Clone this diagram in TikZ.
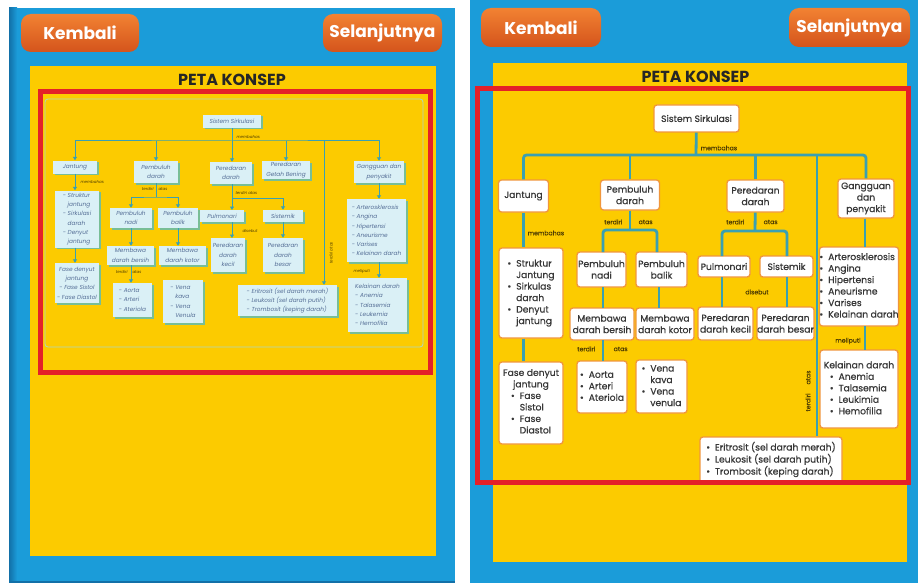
\documentclass[tikz,border=0pt]{standalone}
\usepackage{fontspec}
\setmainfont{Poppins}
\newfontfamily\sedang[FakeBold=0.6]{Poppins}
\usetikzlibrary{positioning,arrows.meta}
\definecolor{biru}{RGB}{27,156,217}
\definecolor{birutua}{RGB}{18,112,168}
\definecolor{kuning}{RGB}{252,203,0}
\definecolor{merah}{RGB}{228,32,40}
\definecolor{oranyeatas}{RGB}{242,130,50}
\definecolor{oranyebawah}{RGB}{212,84,28}
\definecolor{tepi}{RGB}{240,150,60}
\definecolor{toska}{RGB}{58,160,178}
\definecolor{teks}{RGB}{55,55,55}
\definecolor{coklat}{RGB}{80,62,0}
\definecolor{birumuda}{RGB}{218,240,246}
\definecolor{bayang}{RGB}{120,190,150}
\definecolor{tekskecil}{RGB}{85,110,150}
\newcommand{\butir}{\textbullet}
\newenvironment{daftar}{\begin{tabular}{@{}l@{\hspace{5pt}}l@{}}}{\end{tabular}}
\tikzset{
    >={Triangle[width=4pt,length=3.5pt]},
    tombol/.style = {rounded corners=10pt, top color=oranyeatas, bottom color=oranyebawah,
                     text=white, font=\fontsize{17}{17}\selectfont\bfseries},
    judul/.style = {font=\fontsize{16}{16}\selectfont\bfseries, text=black!85},
    kotak/.style = {draw=tepi, line width=1.3pt, fill=white, rounded corners=3pt, align=center,
                    inner sep=0pt, text=teks, font=\sedang\fontsize{9.2}{11.5}\selectfont},
    ket/.style = {font=\sedang\fontsize{6.2}{6.2}\selectfont, text=coklat, inner sep=0.5pt},
    hubung/.style = {draw=toska, line width=2.8pt},
    kotakkecil/.style = {fill=birumuda, preaction={fill=bayang, transform canvas={xshift=1.5pt,yshift=-1.5pt}},
                         align=center, inner sep=0pt, text=tekskecil, font=\fontsize{5.8}{9.3}\selectfont\itshape},
    ketkecil/.style = {font=\fontsize{4}{4}\selectfont\itshape, text=coklat, inner sep=0.3pt},
    panah/.style = {draw=toska, line width=1pt, ->},
}

\begin{document}
\begin{tikzpicture}[x=1pt, y=-1pt]
\useasboundingbox (0,0) rectangle (918,583);
\fill[white] (0,0) rectangle (918,583);

% panel kiri
\fill[biru] (9,8) rectangle (455,583);
\shade[left color=birutua, right color=biru] (9,8) rectangle (17,583);
\fill[birutua] (9,580.5) rectangle (455,583);
\fill[kuning] (30,66) rectangle (435.5,556);
\node[tombol, minimum width=118pt, minimum height=38pt] (kembaliA) at (80,33) {Kembali};
\node[tombol, minimum width=119pt, minimum height=38pt] (lanjutA) at (382.5,33) {Selanjutnya};
\node[judul] (judulA) at (232,80) {PETA KONSEP};
\draw[bayang!60!white, line width=0.8pt, rounded corners=3pt] (45,99) rectangle (423,347);

\node[kotakkecil, minimum width=58pt, minimum height=13pt] (ksis) at (232,121.5) {Sistem Sirkulasi};
\node[kotakkecil, minimum width=44pt, minimum height=13pt] (kjan) at (75,167) {Jantung};
\node[kotakkecil, minimum width=44pt, minimum height=22pt] (kpem) at (156,172) {Pembuluh\\darah};
\node[kotakkecil, minimum width=42pt, minimum height=22pt] (kper) at (231,173) {Peredaran\\darah};
\node[kotakkecil, minimum width=48pt, minimum height=18pt] (kget) at (286,170) {Peredaran\\Getah Bening};
\node[kotakkecil, minimum width=50pt, minimum height=22pt] (kgan) at (379,172) {Gangguan dan\\penyakit};
\node[kotakkecil, minimum width=44pt, minimum height=57pt, align=left] (kstr) at (77,219)
    {- Struktur\\\phantom{- }jantung\\- Sirkulasi\\\phantom{- }darah\\- Denyut\\\phantom{- }jantung};
\node[kotakkecil, minimum width=44pt, minimum height=40pt] (kfas) at (77,283)
    {Fase denyut\\jantung\\- Fase Sistol\\- Fase Diastol};
\node[kotakkecil, minimum width=42pt, minimum height=20pt] (knad) at (131,218) {Pembuluh\\nadi};
\node[kotakkecil, minimum width=40pt, minimum height=20pt] (kbal) at (178,218) {Pembuluh\\balik};
\node[kotakkecil, minimum width=47pt, minimum height=19pt] (kber) at (130.5,255.5) {Membawa\\darah bersih};
\node[kotakkecil, minimum width=47pt, minimum height=19pt] (kkot) at (182.5,255.5) {Membawa\\darah kotor};
\node[kotakkecil, minimum width=39pt, minimum height=34pt, align=left] (kaor) at (132.5,300)
    {- Aorta\\- Arteri\\- Ateriola};
\node[kotakkecil, minimum width=40pt, minimum height=43pt, align=left] (kven) at (183,301.5)
    {- Vena\\\phantom{- }kava\\- Vena\\\phantom{- }Venula};
\node[kotakkecil, minimum width=44pt, minimum height=12pt] (kpul) at (222,216) {Pulmonari};
\node[kotakkecil, minimum width=40pt, minimum height=12pt] (ksis2) at (283,216) {Sistemik};
\node[kotakkecil, minimum width=34pt, minimum height=34pt] (kkec) at (228,255) {Peredaran\\darah\\kecil};
\node[kotakkecil, minimum width=40pt, minimum height=34pt] (kbes) at (283,255) {Peredaran\\darah\\besar};
\node[kotakkecil, minimum width=59pt, minimum height=63pt, align=left] (kart) at (376.5,230.5)
    {- Arterosklerosis\\- Angina\\- Hipertensi\\- Aneurisme\\- Varises\\- Kelainan darah};
\node[kotakkecil, minimum width=59pt, minimum height=54pt, align=left] (kkel) at (377.5,305)
    {Kelainan darah\\- Anemia\\- Talasemia\\- Leukemia\\- Hemofilia};
\node[kotakkecil, minimum width=99pt, minimum height=31pt, align=left] (kero) at (287.5,300.5)
    {- Eritrosit (sel darah merah)\\- Leukosit (sel darah putih)\\- Trombosit (keping darah)};

\coordinate (kbus) at (232,141);
\coordinate (ktegak) at (324,141);
\draw[panah, -] (ksis) -- (kbus);
\draw[panah, <->] (kjan.north) |- (kbus) -| (kgan.north);
\draw[panah] (kbus -| kpem.north) -- (kpem.north);
\draw[panah] (kbus) -- (kbus |- kper.north);
\draw[panah] (kbus -| kget.north) -- (kget.north);
\draw[panah] (ktegak) -- (ktegak |- kero.north);
\draw[panah] (kjan) -- (kjan |- kstr.north);
\draw[panah] (kjan |- kstr.south) -- (kjan |- kfas.north);
\draw[panah, -] (kpem) -- (156,197);
\draw[panah, <->] (knad.north) |- (156,197) -| (kbal.north);
\draw[panah] (knad) -- (knad |- kber.north);
\draw[panah] (kbal) -- (kbal |- kkot.north);
\draw[panah] (knad |- kber.south) -- (knad |- kaor.north);
\draw[panah] (232,184) -- (232,210);
\draw[panah] (232,198) -| (ksis2.north);
\draw[panah] (232,222) -- (232,238);
\draw[panah] (ksis2) -- (ksis2 |- kbes.north);
\draw[panah] (kgan) -- (kgan |- kart.north);
\draw[panah] (kgan |- kart.south) -- (kgan |- kkel.north);

\node[ketkecil, anchor=west] (kk1) at (236,137) {membahas};
\node[ketkecil, anchor=west] (kk2) at (80,182) {membahas};
\node[ketkecil, anchor=east] (kk3) at (154,189) {terdiri};
\node[ketkecil, anchor=west] (kk4) at (158,189) {atas};
\node[ketkecil, anchor=east] (kk5) at (128,272) {terdiri};
\node[ketkecil, anchor=west] (kk6) at (132,272) {atas};
\node[ketkecil, anchor=west] (kk7) at (235,193) {terdiri atas};
\node[ketkecil, anchor=west] (kk8) at (242,231) {disebut};
\node[ketkecil, anchor=west] (kk9) at (353,271) {meliputi};
\node[ketkecil, rotate=90] (kk10) at (331,253) {terdiri atas};

\draw[merah, line width=5pt] (40.5,92) rectangle (430.5,372);

% panel kanan
\fill[biru] (470,0) rectangle (918,583);
\fill[kuning] (493,63) rectangle (907,562);
\node[tombol, minimum width=120pt, minimum height=39pt] (kembaliB) at (541,27.5) {Kembali};
\node[tombol, minimum width=121pt, minimum height=39pt] (lanjutB) at (849.5,27.5) {Selanjutnya};
\node[judul] (judulB) at (695.5,76.5) {PETA KONSEP};

\node[kotak, minimum width=85pt, minimum height=27pt] (sis) at (696.5,118.5) {Sistem Sirkulasi};
\node[kotak, minimum width=50pt, minimum height=32pt] (jan) at (523.5,196) {Jantung};
\node[kotak, minimum width=59pt, minimum height=30pt] (pem) at (630,195) {Pembuluh\\darah};
\node[kotak, minimum width=57pt, minimum height=32pt] (per) at (755.5,196) {Peredaran\\darah};
\node[kotak, minimum width=56pt, minimum height=39pt] (gan) at (866,198.5) {Gangguan\\dan\\penyakit};
\node[kotak, minimum width=64pt, minimum height=90pt] (stru) at (531,293)
    {\begin{daftar}\butir&Struktur\\&Jantung\\\butir&Sirkulas\\&darah\\\butir&Denyut\\&jantung\end{daftar}};
\node[kotak, minimum width=64pt, minimum height=82pt] (fase) at (531,403)
    {Fase denyut\\jantung\\\begin{daftar}\butir&Fase\\&Sistol\\\butir&Fase\\&Diastol\end{daftar}};
\node[kotak, minimum width=49pt, minimum height=35pt] (nadi) at (601.5,269.5) {Pembuluh\\nadi};
\node[kotak, minimum width=51pt, minimum height=35pt] (bali) at (661.5,269.5) {Pembuluh\\balik};
\node[kotak, minimum width=64pt, minimum height=32pt] (bers) at (602,324) {Membawa\\darah bersih};
\node[kotak, minimum width=58pt, minimum height=32pt] (koto) at (665,324) {Membawa\\darah kotor};
\node[kotak, minimum width=50pt, minimum height=52pt] (aort) at (602,387)
    {\begin{daftar}\butir&Aorta\\\butir&Arteri\\\butir&Ateriola\end{daftar}};
\node[kotak, minimum width=51pt, minimum height=53pt] (vena) at (661.5,386.5)
    {\begin{daftar}\butir&Vena\\&kava\\\butir&Vena\\&venula\end{daftar}};
\node[kotak, minimum width=52pt, minimum height=21pt] (pulm) at (724,266.5) {Pulmonari};
\node[kotak, minimum width=53pt, minimum height=21pt] (sist) at (786.5,266.5) {Sistemik};
\node[kotak, minimum width=55pt, minimum height=33pt] (kcil) at (725.5,323.5) {Peredaran\\darah kecil};
\node[kotak, minimum width=57pt, minimum height=33pt] (besr) at (785.5,323.5) {Peredaran\\darah besar};
\node[kotak, minimum width=78pt, minimum height=79pt] (arte) at (859,286.5)
    {\begin{daftar}\butir&Arterosklerosis\\\butir&Angina\\\butir&Hipertensi\\\butir&Aneurisme\\\butir&Varises\\\butir&Kelainan darah\end{daftar}};
\node[kotak, minimum width=78pt, minimum height=78pt] (kela) at (859,389)
    {\begin{tabular}{@{}l@{}}Kelainan darah\\\hspace{6pt}\butir\hspace{5pt}Anemia\\\hspace{6pt}\butir\hspace{5pt}Talasemia\\\hspace{6pt}\butir\hspace{5pt}Leukimia\\\hspace{6pt}\butir\hspace{5pt}Hemofilia\end{tabular}};
\node[kotak, minimum width=142pt, minimum height=46pt] (trom) at (771,460)
    {\begin{daftar}\butir&Eritrosit (sel darah merah)\\\butir&Leukosit (sel darah putih)\\\butir&Trombosit (keping darah)\end{daftar}};

\coordinate (bus) at (696,155);
\coordinate (tegak) at (817,155);
\draw[hubung] (sis) -- (bus);
\draw[hubung, rounded corners=3pt] (jan.north) |- (bus) -| (gan.north);
\draw[hubung] (pem.north) -- (pem.north |- bus);
\draw[hubung] (per.north) -- (per.north |- bus);
\draw[hubung] (tegak) -- (tegak |- trom.north);
\draw[hubung] (jan) -- (jan |- stru.north);
\draw[hubung] (jan |- stru.south) -- (jan |- fase.north);
\draw[hubung] (pem) -- (630,230);
\draw[hubung, rounded corners=3pt] (603,252) |- (630,230) -| (657,252);
\draw[hubung] (603,287) -- (603,308);
\draw[hubung] (659,287) -- (659,308);
\draw[hubung] (603,340) -- (603,361);
\draw[hubung] (per) -- (755,231);
\draw[hubung, rounded corners=3pt] (722,256) |- (755,231) -| (787,256);
\draw[hubung] (722,277) -- (722,307);
\draw[hubung] (787,277) -- (787,307);
\draw[hubung] (gan.south -| 865,0) -- (865,247);
\draw[hubung] (865,326) -- (865,350);

\node[ket, anchor=west] (k1) at (700,148) {membahas};
\node[ket, anchor=west] (k2) at (527,233) {membahas};
\node[ket, anchor=east] (k3) at (623,222) {terdiri};
\node[ket, anchor=west] (k4) at (638,222) {atas};
\node[ket, anchor=east] (k5) at (596,349) {terdiri};
\node[ket, anchor=west] (k6) at (613,349) {atas};
\node[ket, anchor=east] (k7) at (745,222) {terdiri};
\node[ket, anchor=west] (k8) at (763,222) {atas};
\node[ket] (k9) at (757,292) {disebut};
\node[ket] (k10) at (848,341) {meliputi};
\node[ket, rotate=90] (k11) at (808,391) {terdiri\hspace{9pt}atas};

\draw[merah, line width=5pt] (477.5,89) rectangle (908.5,482);
\end{tikzpicture}
\end{document}
